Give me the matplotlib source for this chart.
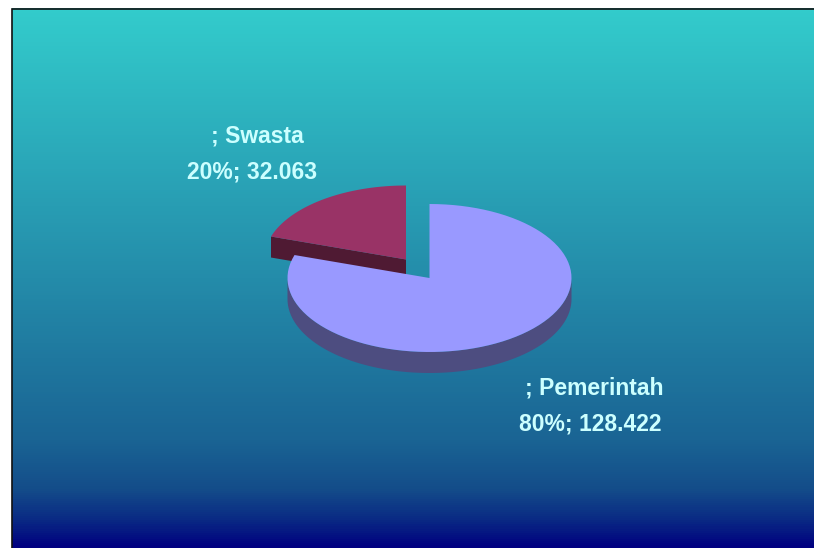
# -*- coding: utf-8 -*-
import numpy as np
import matplotlib
matplotlib.use("Agg")
import matplotlib.pyplot as plt
from matplotlib.colors import LinearSegmentedColormap
from matplotlib.patches import Polygon

labels = ["Pemerintah", "Swasta"]
values = [128.422, 32.063]
percent = ["80%", "20%"]

plt.rcParams['font.family'] = ['Liberation Sans', 'DejaVu Sans']

W, H = 814, 548
fig = plt.figure(figsize=(W / 100, H / 100), dpi=100)
ax = fig.add_axes([0, 0, 1, 1])
ax.set_xlim(0, W)
ax.set_ylim(H, 0)
ax.axis("off")

# background gradient
stops = [(0, (51/255, 204/255, 204/255)), (0.5, (36/255, 140/255, 170/255)),
         (0.80, (26/255, 100/255, 148/255)), (0.89, (20/255, 78/255, 138/255)),
         (0.95, (10/255, 42/255, 132/255)), (1, (0, 0, 128/255))]
cmap = LinearSegmentedColormap.from_list("bg", stops)
grad = np.linspace(0, 1, 540).reshape(-1, 1)
ax.imshow(grad, cmap=cmap, extent=(12, 814, 548, 8), aspect="auto", zorder=0)
ax.set_xlim(0, W)
ax.set_ylim(H, 0)
# only left and top edge show a line
ax.plot([12, 12, 814], [548, 8.5, 8.5], color="#111111", lw=1.2, zorder=1,
        solid_joinstyle="miter")

rx, ry, depth = 142, 74, 21
total = sum(values)
sweep_small = 360 * values[1] / total
a0 = 90
a1 = 90 + sweep_small


def pts(cx, cy, a, b, n=90):
    t = np.radians(np.linspace(a, b, n))
    return np.column_stack([cx + rx * np.cos(t), cy - ry * np.sin(t)])


def slice_top(cx, cy, a, b):
    return np.vstack([[cx, cy], pts(cx, cy, a, b)])


# small slice
cx, cy = 406, 259.5
left = pts(cx, cy, a1, a1, 1)[0]
face = np.array([[cx, cy], left, left + [0, depth], [cx, cy + depth]])
ax.add_patch(Polygon(face, fc="#4f1a33", ec="none", zorder=2))
ax.add_patch(Polygon(slice_top(cx, cy, a0, a1), fc="#993366", ec="none", zorder=3))

# big slice
cx, cy = 429.5, 278
front = pts(cx, cy, 180, 360)
side = np.vstack([front, (front + [0, depth])[::-1]])
ax.add_patch(Polygon(side, fc="#4d4d80", ec="none", zorder=4))
ax.add_patch(Polygon(slice_top(cx, cy, a1, 450), fc="#9999ff", ec="none", zorder=5))

# labels
txt = dict(color="#ccffff", fontsize=16.5, fontweight="bold", ha="center",
           va="center", zorder=6)
ax.text(257, 136, "; " + labels[1], **txt)
ax.text(252.5, 172, percent[1] + "; " + f"{values[1]:.3f}", **txt)
ax.text(594.5, 388, "; " + labels[0], **txt)
ax.text(590, 424, percent[0] + "; " + f"{values[0]:.3f}", **txt)

fig.savefig("out.png", dpi=100)
